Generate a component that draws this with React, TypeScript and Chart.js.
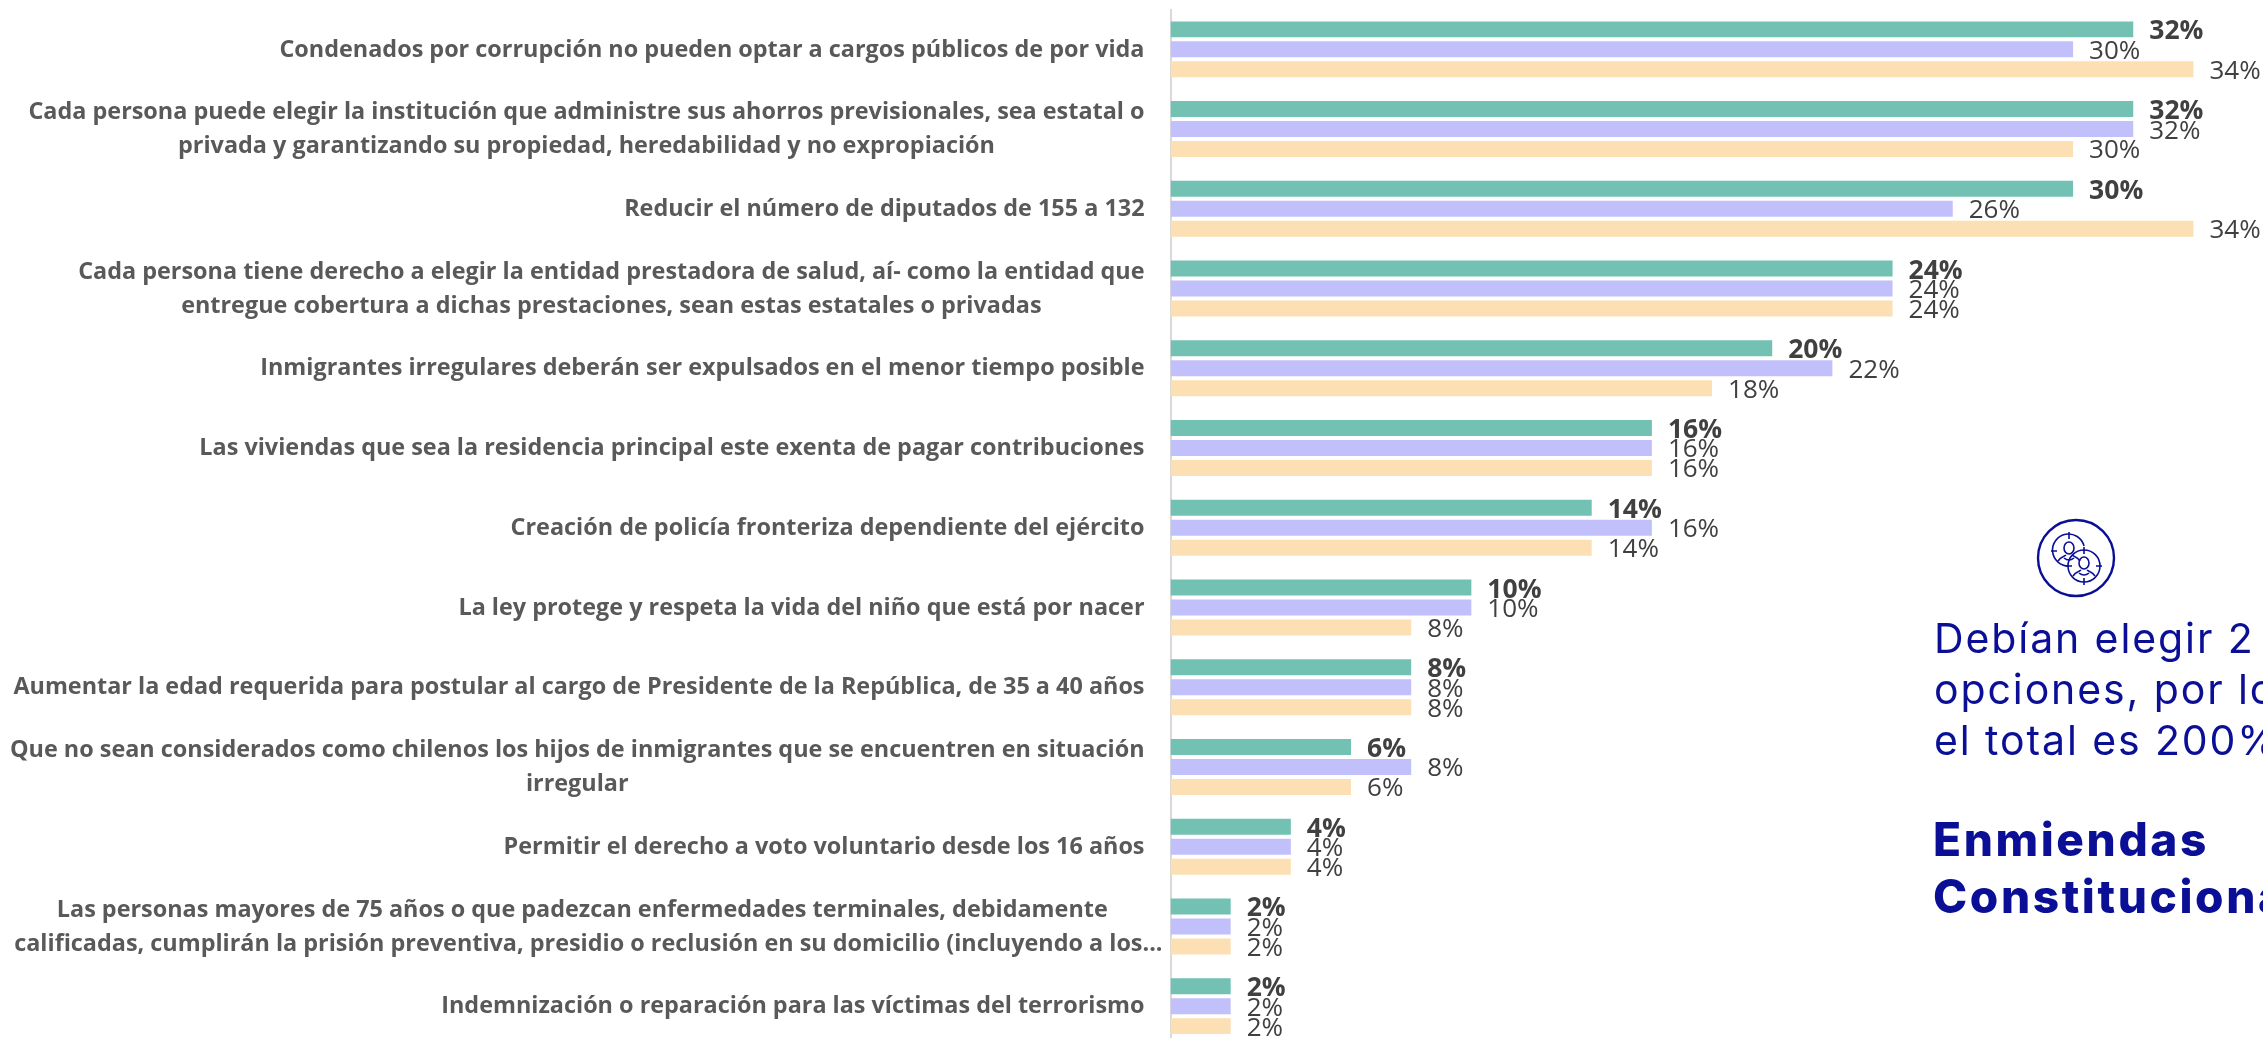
import React, { useEffect, useRef } from "react";
import { Chart, registerables } from "chart.js";

Chart.register(...registerables);

const categories: string[][] = [
  ["Condenados por corrupción no pueden optar a cargos públicos de por vida"],
  ["Cada persona puede elegir la institución que administre sus ahorros previsionales, sea estatal o", "privada y garantizando su propiedad, heredabilidad y no expropiación"],
  ["Reducir el número de diputados de 155 a 132"],
  ["Cada persona tiene derecho a elegir la entidad prestadora de salud, aí- como la entidad que", "entregue cobertura a dichas prestaciones, sean estas estatales o privadas"],
  ["Inmigrantes irregulares deberán ser expulsados en el menor tiempo posible"],
  ["Las viviendas que sea la residencia principal este exenta de pagar contribuciones"],
  ["Creación de policía fronteriza dependiente del ejército"],
  ["La ley protege y respeta la vida del niño que está por nacer"],
  ["Aumentar la edad requerida para postular al cargo de Presidente de la República, de 35 a 40 años"],
  ["Que no sean considerados como chilenos los hijos de inmigrantes que se encuentren en situación", "irregular"],
  ["Permitir el derecho a voto voluntario desde los 16 años"],
  ["Las personas mayores de 75 años o que padezcan enfermedades terminales, debidamente  ", "calificadas, cumplirán la prisión preventiva, presidio o reclusión en su domicilio (incluyendo a los..."],
  ["Indemnización o reparación para las víctimas del terrorismo"],
];
const serieA = [32, 32, 30, 24, 20, 16, 14, 10, 8, 6, 4, 2, 2];
const serieB = [30, 32, 26, 24, 22, 16, 16, 10, 8, 8, 4, 2, 2];
const serieC = [34, 30, 34, 24, 18, 16, 14, 8, 8, 6, 4, 2, 2];
const serieNames = ["Serie 1", "Serie 2", "Serie 3"];
const colors = ["#72C1B3", "#C1C0FA", "#FCE0B3"];
const noteLines = ["Debían elegir 2", "opciones, por lo que", "el total es 200%"];
const titleLines = ["Enmiendas", "Constitucionales"];

const NAVY = "#0A0F96";
const LABEL_FONT = 'bold 23.4px "Open Sans"';

const labelPlugin = {
  id: "customLabels",
  afterDatasetsDraw(chart: any) {
    const { ctx } = chart;
    const yScale = chart.scales.y;
    ctx.save();
    ctx.textBaseline = "middle";
    // category labels: each block ends near the axis, its lines are centred in it
    ctx.font = LABEL_FONT;
    ctx.fillStyle = "#595959";
    ctx.textAlign = "center";
    const rightEdge = chart.chartArea.left - 26;
    categories.forEach((lines, i) => {
      const widest = Math.max(...lines.map((l) => ctx.measureText(l).width));
      const right = rightEdge + (widest > 1140 ? 18 : 0);
      const cx = right - widest / 2;
      const yc = yScale.getPixelForTick(i);
      lines.forEach((l, j) => {
        ctx.fillText(l, cx, yc + (j - (lines.length - 1) / 2) * 34 + 0.5);
      });
    });
    // value labels
    ctx.textAlign = "left";
    chart.data.datasets.forEach((ds: any, d: number) => {
      const meta = chart.getDatasetMeta(d);
      ctx.font = d === 0 ? 'bold 26.5px "Open Sans"' : '26px "Open Sans"';
      ctx.fillStyle = "#404040";
      meta.data.forEach((bar: any, i: number) => {
        ctx.fillText(ds.data[i] + "%", bar.x + 16, bar.y + (d === 0 ? 2.5 : 2));
      });
    });
    ctx.restore();
  },
};

function Icon() {
  const target = (cx: number, cy: number, gap: boolean) => (
    <g>
      {gap ? (
        <path d={`M ${cx + 15} ${cy - 5} A 16 16 0 1 0 ${cx + 0} ${cy + 15}`} fill="none" />
      ) : (
        <circle cx={cx} cy={cy} r={16} fill="none" />
      )}
      <path d={`M ${cx} ${cy - 19} V ${cy - 12} M ${cx - 18} ${cy} H ${cx - 12} ${gap ? "" : `M ${cx} ${cy + 19} V ${cy + 12} M ${cx + 18} ${cy} H ${cx + 12}`}`} />
      <ellipse cx={cx} cy={cy - 3} rx={5} ry={6} fill="none" />
      <path d={`M ${cx - 11} ${cy + 10} C ${cx - 8} ${cy + 5} ${cx - 5} ${cy + 6} ${cx - 3} ${cy + 4} M ${cx + 11} ${cy + 10} C ${cx + 8} ${cy + 5} ${cx + 5} ${cy + 6} ${cx + 3} ${cy + 4} M ${cx - 5} ${cy + 7} Q ${cx} ${cy + 11} ${cx + 5} ${cy + 7}`} fill="none" />
    </g>
  );
  return (
    <svg
      width={84}
      height={84}
      viewBox="0 0 84 84"
      style={{ position: "absolute", left: 2034, top: 516 }}
      stroke={NAVY}
      strokeWidth={1.6}
      fill="none"
    >
      <circle cx={42} cy={42} r={38} strokeWidth={2.4} />
      <g>{target(35, 35, true)}</g>
      <g>{target(50, 50, false)}</g>
    </svg>
  );
}

export default function App() {
  const ref = useRef<HTMLCanvasElement>(null);
  useEffect(() => {
    document.body.style.margin = "0";
    document.body.style.overflow = "hidden";
    const chart = new Chart(ref.current!, {
      type: "bar",
      data: {
        labels: categories.map((c) => c.join(" ")),
        datasets: [serieA, serieB, serieC].map((data, i) => ({
          label: serieNames[i],
          data,
          backgroundColor: colors[i],
          barPercentage: 0.8,
          categoryPercentage: 0.752,
        })),
      },
      options: {
        indexAxis: "y",
        animation: false,
        responsive: false,
        maintainAspectRatio: false,
        layout: { padding: { top: 9.5, bottom: 14, right: 9.4, left: 0 } },
        plugins: { legend: { display: false }, tooltip: { enabled: false } },
        scales: {
          x: {
            min: 0,
            max: 36,
            display: false,
          },
          y: {
            ticks: { display: false },
            grid: { display: false, drawTicks: false },
            border: { display: true, color: "#D9D9D9", width: 2 },
            afterFit(scale: any) {
              scale.width = 1170.5;
            },
          },
        },
      },
      plugins: [labelPlugin],
    } as any);
    return () => chart.destroy();
  }, []);
  const textBase: React.CSSProperties = {
    position: "absolute",
    whiteSpace: "nowrap",
    color: NAVY,
    fontFamily: "Inter",
    lineHeight: 1,
  };
  return (
    <div style={{ position: "absolute", left: 0, top: 0, width: 2263, height: 1038, overflow: "hidden", background: "#fff" }}>
      <canvas ref={ref} width={2263} height={1060} style={{ display: "block", width: 2263, height: 1060 }} />
      <Icon />
      {noteLines.map((t, i) => (
        <div key={t} style={{ ...textBase, left: 1934, top: 618 + i * 51, fontSize: 41, fontWeight: 400, letterSpacing: "1.9px" }}>
          {t}
        </div>
      ))}
      {titleLines.map((t, i) => (
        <div key={t} style={{ ...textBase, left: 1933, top: 816 + i * 57, fontSize: 46, fontWeight: 800, letterSpacing: "2.6px" }}>
          {t}
        </div>
      ))}
    </div>
  );
}
